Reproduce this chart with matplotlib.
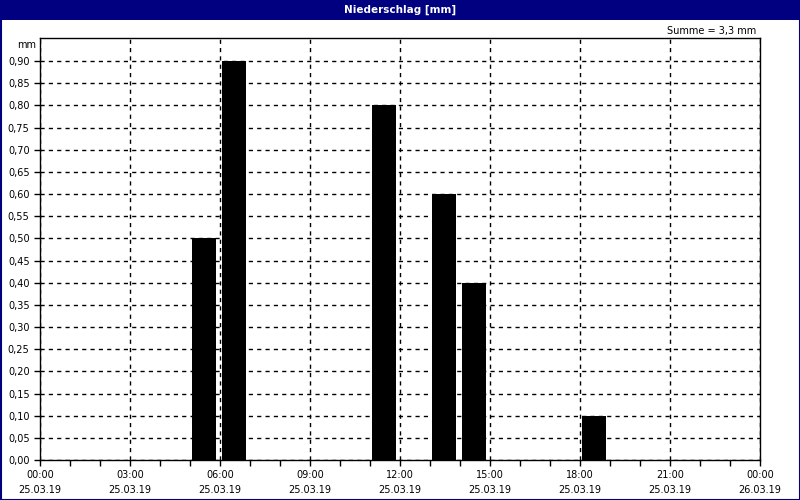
import numpy as np
import matplotlib.pyplot as plt
from matplotlib.patches import Rectangle

plt.rcParams["font.family"] = ["DejaVu Sans"]
plt.rcParams["font.size"] = 7

# Stundenwerte Niederschlag (Beginn der Stunde, mm)
stunden = [5, 6, 11, 13, 14, 18]
werte = [0.5, 0.9, 0.8, 0.6, 0.4, 0.1]
xtick_labels = ["00:00\n25.03.19", "03:00\n25.03.19", "06:00\n25.03.19",
                "09:00\n25.03.19", "12:00\n25.03.19", "15:00\n25.03.19",
                "18:00\n25.03.19", "21:00\n25.03.19", "00:00\n26.03.19"]
navy = "#000080"

fig = plt.figure(figsize=(8, 5), dpi=100)
# Titelleiste + Rahmen
fig.patches.append(Rectangle((0, 1 - 20 / 500), 1, 20 / 500, transform=fig.transFigure,
                             facecolor=navy, edgecolor="none", zorder=0))
fig.patches.append(Rectangle((0.5 / 800, 0.5 / 500), 1 - 1 / 800, 1 - 1 / 500, transform=fig.transFigure,
                             facecolor="none", edgecolor=navy, lw=1.5, zorder=5))
fig.text(0.5, 1 - 10 / 500, "Niederschlag [mm]", color="white", ha="center", va="center",
         fontsize=7.5, fontweight="bold")
fig.text(756 / 800, 1 - 31 / 500, "Summe = 3,3 mm", ha="right", va="center", fontsize=7)
fig.text(36 / 800, 1 - 45 / 500, "mm", ha="right", va="center", fontsize=7)

ax = fig.add_axes([40 / 800, 40 / 500, 720 / 800, 422 / 500])
ax.bar(np.array(stunden) + 0.47, werte, width=0.8, color="black", linewidth=0, zorder=3)

ax.set_xlim(0, 24)
ax.set_ylim(0, 0.952)
ax.set_xticks(np.arange(0, 25, 3))
ax.set_xticks(np.arange(0, 25, 1), minor=True)
ax.set_xticklabels(xtick_labels, linespacing=1.6)
yt = np.arange(0, 0.91, 0.05)
ax.set_yticks(yt)
ax.set_yticklabels([f"{v:.2f}".replace(".", ",") for v in yt])
ax.tick_params(axis="both", which="both", direction="out", length=4, width=1, color="black")
ax.tick_params(axis="x", pad=3)
ax.grid(True, which="major", color="black", linestyle=(0, (3, 3)), linewidth=1, zorder=1)
for s in ax.spines.values():
    s.set_color("black")
    s.set_linewidth(1)

fig.savefig("out.png", dpi=100)
